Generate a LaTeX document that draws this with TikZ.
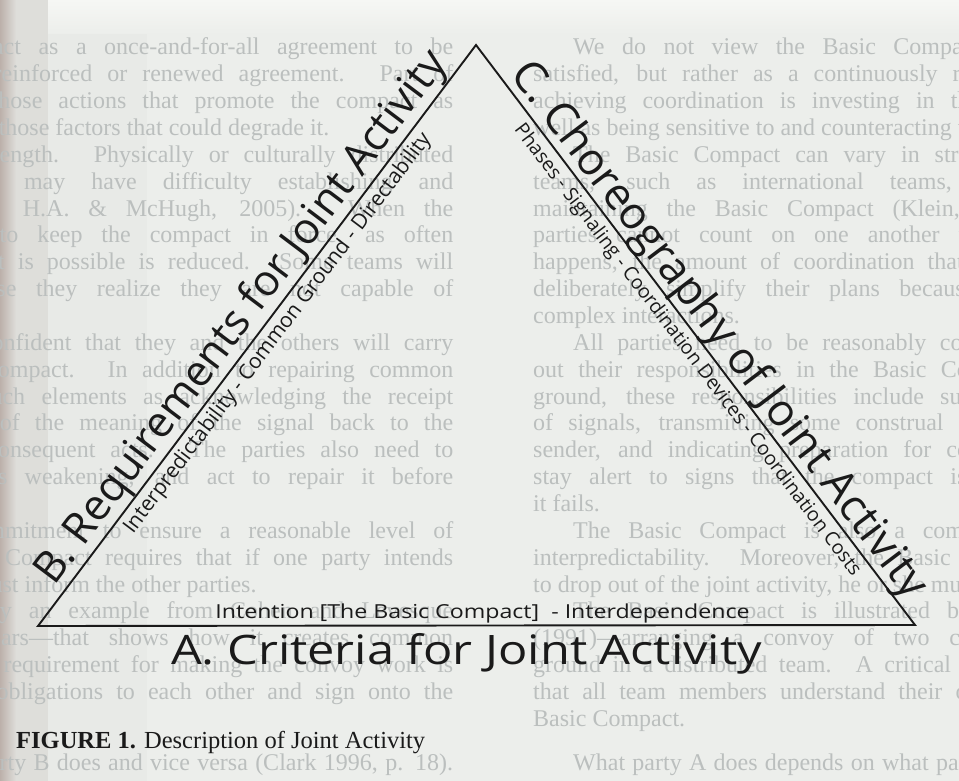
\documentclass[tikz,border=0pt]{standalone}
\usepackage{fontspec}
\setmainfont{Liberation Serif}
\newfontfamily\diagfont{Open Sans}
\newfontfamily\diagwide[FakeStretch=1.2]{Open Sans}
\usetikzlibrary{calc}

\definecolor{paper}{RGB}{236,238,235}
\definecolor{papertop}{RGB}{246,247,244}
\definecolor{gutter}{RGB}{222,222,218}
\definecolor{gutterdark}{RGB}{188,176,170}
\definecolor{band}{RGB}{232,234,231}
\definecolor{ghostgray}{RGB}{187,191,190}
\definecolor{ink}{RGB}{26,26,26}

% faint body text of the page, rolled round the sheet
\newcommand\ghostfont{\fontsize{24}{26}\selectfont}
\newcommand\gj[3]{%
  \node[ghost] (#1a) at (533,#2) {\makebox[879pt][s]{#3}};
  \node[ghost] (#1b) at (-426,#2) {\makebox[879pt][s]{#3}};}
\newcommand\gi[3]{%
  \node[ghost] (#1a) at (573,#2) {\makebox[839pt][s]{#3}};
  \node[ghost] (#1b) at (-386,#2) {\makebox[839pt][s]{#3}};}
\newcommand\gl[3]{%
  \node[ghost] (#1a) at (533,#2) {#3};
  \node[ghost] (#1b) at (-426,#2) {#3};}

\begin{document}
\begin{tikzpicture}[x=1pt,y=-1pt,
  ghost/.style={anchor=base west, inner sep=0pt, text=ghostgray, font=\ghostfont},
  bigside/.style={anchor=base, inner sep=0pt, text=ink, font=\diagfont\fontsize{43}{43}\selectfont},
  smallside/.style={anchor=base, inner sep=0pt, text=ink, font=\diagfont\fontsize{21}{21}\selectfont},
  bigbottom/.style={anchor=base, inner sep=0pt, text=ink, font=\diagwide\fontsize{40.6}{41}\selectfont},
  smallbottom/.style={anchor=base, inner sep=0pt, text=ink, font=\diagwide\fontsize{19.3}{20}\selectfont},
  edge/.style={draw=ink, line width=1.9pt, line join=miter}]
\useasboundingbox (0,0) rectangle (959,781);

% paper
\fill[paper] (0,0) rectangle (959,781);
\fill[band] (0,0) rectangle (147,781);
\fill[gutter] (0,0) rectangle (48,781);
\shade[left color=gutterdark, right color=gutter] (0,0) rectangle (16,781);
\shade[top color=papertop, bottom color=paper] (48,0) rectangle (959,34);

% body text
\begin{scope}
\clip (0,0) rectangle (959,781);
\gi{g00}{55}{We do not view the Basic Compact as a once-and-for-all agreement to be}
\gj{g01}{81.85}{satisfied, but rather as a continuously reinforced or renewed agreement. Part of}
\gj{g02}{108.7}{achieving coordination is investing in those actions that promote the compact as}
\gl{g03}{135.55}{well as being sensitive to and counteracting those factors that could degrade it.}
\gi{g04}{162.4}{The Basic Compact can vary in strength. Physically or culturally distributed}
\gj{g05}{189.25}{teams, such as international teams, may have difficulty establishing and}
\gj{g06}{216.1}{maintaining the Basic Compact (Klein, H.A. \& McHugh, 2005). When the}
\gj{g07}{242.95}{parties cannot count on one another to keep the compact in force, as often}
\gj{g08}{269.8}{happens, the amount of coordination that is possible is reduced. Some teams will}
\gj{g09}{296.65}{deliberately simplify their plans because they realize they are not capable of}
\gl{g10}{323.5}{complex interactions.}
\gi{g11}{350.35}{All parties need to be reasonably confident that they and the others will carry}
\gj{g12}{377.2}{out their responsibilities in the Basic Compact. In addition to repairing common}
\gj{g13}{404.05}{ground, these responsibilities include such elements as acknowledging the receipt}
\gj{g14}{430.9}{of signals, transmitting some construal of the meaning of the signal back to the}
\gj{g15}{457.75}{sender, and indicating preparation for consequent acts. The parties also need to}
\gj{g16}{484.6}{stay alert to signs that the compact is weakening, and act to repair it before}
\gl{g17}{511.45}{it fails.}
\gi{g18}{538.3}{The Basic Compact is also a commitment to ensure a reasonable level of}
\gj{g19}{565.15}{interpredictability. Moreover, the Basic Compact requires that if one party intends}
\gl{g20}{592}{to drop out of the joint activity, he or she must inform the other parties.}
\gi{g21}{618.85}{The Basic Compact is illustrated by an example from Cohen and Levesque}
\gj{g22}{645.7}{(1991)---arranging a convoy of two cars---that shows how it creates common}
\gj{g23}{672.55}{ground in a distributed team. A critical requirement for making the convoy work is}
\gj{g24}{699.4}{that all team members understand their obligations to each other and sign onto the}
\gl{g25}{726.25}{Basic Compact.}
\gi{g26}{770}{What party A does depends on what party B does and vice versa (Clark 1996, p. 18).}
\end{scope}

% triangle
\coordinate (L) at (38,626);
\coordinate (T) at (476,45);
\coordinate (R) at (915,625);
\draw[edge] (L) -- (T) -- (R) -- cycle;

% side B
\node[bigside, rotate=52.99] (B) at ($(L)!369pt!(T)!11pt!90:(T)$) {B. Requirements for Joint Activity};
\node[smallside, rotate=52.99] (Bsub) at ($(L)!378pt!(T)!21pt!-90:(T)$) {Interpredictability - Common Ground - Directability};

% side C
\node[bigside, rotate=-52.88, font=\diagfont\fontsize{44.3}{44}\selectfont] (C) at ($(T)!374pt!(R)!9pt!90:(R)$) {C. Choreography of Joint Activity};
\node[smallside, rotate=-52.88, font=\diagfont\fontsize{19.5}{20}\selectfont] (Csub) at ($(T)!371pt!(R)!21pt!-90:(R)$) {Phases - Signaling - Coordination Devices - Coordination Costs};

% side A
\node[smallbottom] (Asub) at (482.5,618) {Intention [The Basic Compact]\ \ - Interdependence};
\node[bigbottom] (A) at (466.5,664) {A. Criteria for Joint Activity};

% caption
\node[anchor=base west, inner sep=0pt, text=ink, font=\fontsize{24.5}{25}\selectfont] (cap) at (16,748)
  {\textbf{FIGURE 1.} Description of Joint Activity};
\end{tikzpicture}
\end{document}
